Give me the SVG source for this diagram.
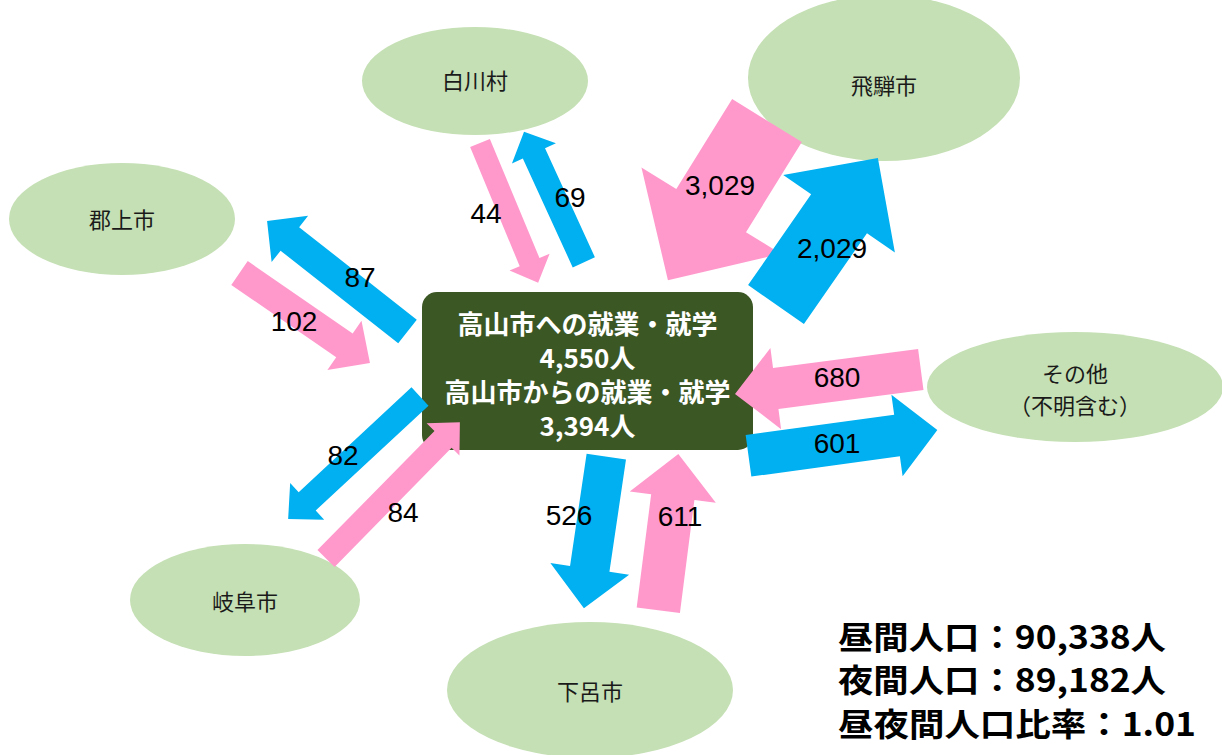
<svg xmlns="http://www.w3.org/2000/svg" width="1222" height="755" viewBox="0 0 1222 755">
<style>
.ell{fill:#c5e0b4}
.nl{font-family:"Noto Sans CJK JP","Noto Sans",sans-serif;font-size:22px;fill:#1a1a1a;text-anchor:middle}
.pk{fill:#ff99cc}
.bl{fill:#00b0f0}
.num{font-family:"Liberation Sans",Arial,sans-serif;font-size:28px;fill:#000;text-anchor:middle}
.bx{font-family:"Noto Sans CJK JP","Noto Sans",sans-serif;font-size:26px;font-weight:bold;fill:#fff;text-anchor:middle}
.st{font-family:"Noto Sans CJK JP","Noto Sans",sans-serif;font-size:32px;font-weight:bold;fill:#000}
</style>
<rect width="1222" height="755" fill="#fff"/>
<g id="shirakawa"><ellipse class="ell" cx="475" cy="81" rx="113" ry="54"/><text class="nl" x="475" y="89">白川村</text></g>
<g id="hida"><ellipse class="ell" cx="884" cy="78" rx="136" ry="83"/><text class="nl" x="884" y="94">飛騨市</text></g>
<g id="gujo"><ellipse class="ell" cx="122" cy="219" rx="113" ry="56"/><text class="nl" x="122" y="228">郡上市</text></g>
<g id="other"><ellipse class="ell" cx="1075" cy="387" rx="148" ry="55"/><text class="nl" x="1075" y="382">その他</text><text class="nl" x="1075" y="414">（不明含む）</text></g>
<g id="gifu"><ellipse class="ell" cx="245" cy="600" rx="115" ry="56"/><text class="nl" x="245" y="610">岐阜市</text></g>
<g id="gero"><ellipse class="ell" cx="590" cy="690" rx="143" ry="68"/><text class="nl" x="590" y="700">下呂市</text></g>
<g id="takayama">
<rect x="422" y="292" width="331" height="158" rx="15" fill="#3b5724"/>
<text class="bx" x="587.5" y="334">高山市への就業・就学</text>
<text class="bx" x="587.5" y="368">4,550人</text>
<text class="bx" x="587.5" y="402">高山市からの就業・就学</text>
<text class="bx" x="587.5" y="436">3,394人</text>
</g>
<g id="connectors">
<polygon class="pk" points="0,-41 106,-41 106,-82 188,0 106,82 106,41 0,41" transform="translate(767,120.5) rotate(121.8)"/>
<polygon class="bl" points="0,-34 110.5,-34 110.5,-68 178.5,0 110.5,68 110.5,34 0,34" transform="translate(776,304.5) rotate(-55.2)"/>
<polygon class="bl" points="0,-15 149.7,-15 149.7,-29.5 178.7,0 149.7,29.5 149.7,15 0,15" transform="translate(407.5,331.5) rotate(-141.8)"/>
<polygon class="pk" points="0,-14.5 127.5,-14.5 127.5,-30 158.5,0 127.5,30 127.5,14.5 0,14.5" transform="translate(239.5,273) rotate(34.6)"/>
<polygon class="bl" points="0,-12.5 154,-12.5 154,-25 180,0 154,25 154,12.5 0,12.5" transform="translate(420,396.5) rotate(137.1)"/>
<polygon class="pk" points="0,-12 167,-12 167,-23 191,0 167,23 167,12 0,12" transform="translate(326,558.5) rotate(-45.5)"/>
<polygon class="pk" points="0,-10.7 129,-10.7 129,-21.7 151.3,0 129,21.7 129,10.7 0,10.7" transform="translate(480,143) rotate(67.4)"/>
<polygon class="bl" points="0,-12.2 119.8,-12.2 119.8,-24.2 143.6,0 119.8,24.2 119.8,12.2 0,12.2" transform="translate(583.8,262.3) rotate(-114.6)"/>
<polygon class="bl" points="0,-19.9 113.4,-19.9 113.4,-39.8 153.2,0 113.4,39.8 113.4,19.9 0,19.9" transform="translate(606.3,456.7) rotate(98.4)"/>
<polygon class="pk" points="0,-21.8 114,-21.8 114,-43.4 157.5,0 114,43.4 114,21.8 0,21.8" transform="translate(658.3,610.2) rotate(-82.7)"/>
<polygon class="pk" points="0,-20.7 146.3,-20.7 146.3,-40.9 187.4,0 146.3,40.9 146.3,20.7 0,20.7" transform="translate(920.8,369.5) rotate(172.5)"/>
<polygon class="bl" points="0,-21 149.9,-21 149.9,-41.2 190.6,0 149.9,41.2 149.9,21 0,21" transform="translate(748.5,455.8) rotate(-7.8)"/>
<text class="num" x="720" y="195">3,029</text>
<text class="num" x="832" y="258">2,029</text>
<text class="num" x="360" y="287">87</text>
<text class="num" x="294" y="331">102</text>
<text class="num" x="343" y="465">82</text>
<text class="num" x="403" y="522">84</text>
<text class="num" x="486" y="223">44</text>
<text class="num" x="570" y="207">69</text>
<text class="num" x="569" y="525">526</text>
<text class="num" x="680" y="526">611</text>
<text class="num" x="837" y="387">680</text>
<text class="num" x="837" y="453">601</text>
</g>
<g id="stats">
<text class="st" x="838" y="649" textLength="328" lengthAdjust="spacingAndGlyphs">昼間人口：90,338人</text>
<text class="st" x="838" y="692" textLength="328" lengthAdjust="spacingAndGlyphs">夜間人口：89,182人</text>
<text class="st" x="838" y="736" textLength="358" lengthAdjust="spacingAndGlyphs">昼夜間人口比率：1.01</text>
</g>
</svg>
